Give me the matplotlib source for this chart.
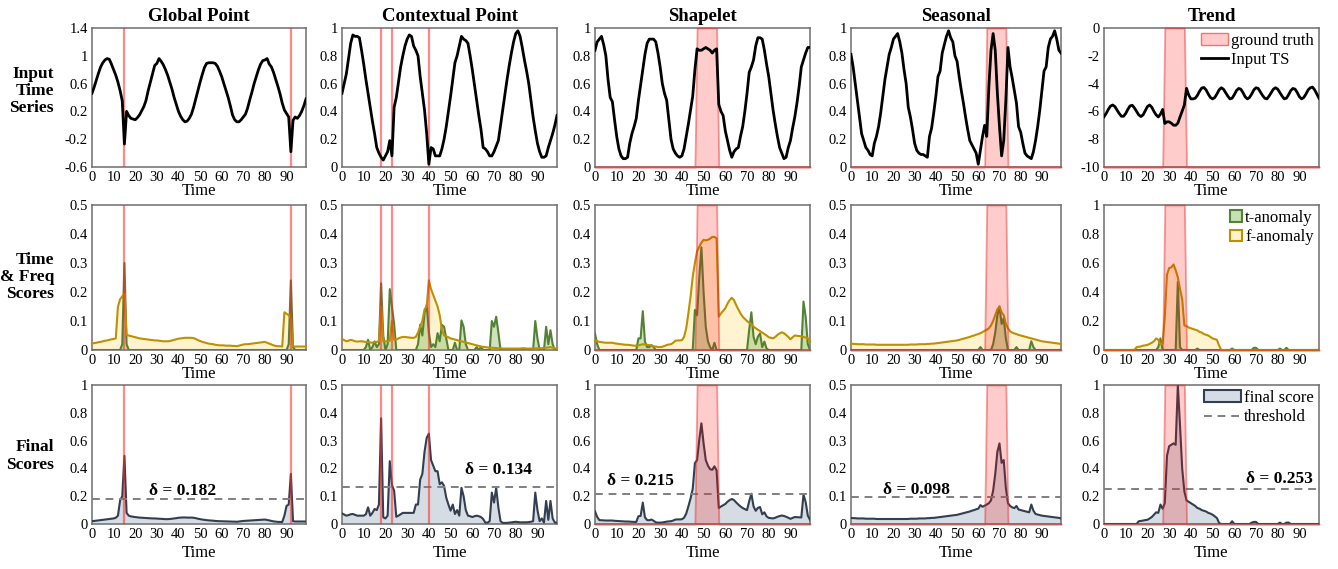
import numpy as np
import matplotlib.pyplot as plt
from matplotlib.patches import Patch
from matplotlib.lines import Line2D
from matplotlib.ticker import FuncFormatter

plt.rcParams['font.family'] = ['Liberation Serif', 'DejaVu Serif']
plt.rcParams['axes.unicode_minus'] = False

t = np.arange(100)
cols = ['Global Point', 'Contextual Point', 'Shapelet', 'Seasonal', 'Trend']
rows = ['Input\nTime\nSeries', 'Time\n& Freq\nScores', 'Final\nScores']

# ground truth: list -> single points, tuple -> (start, end) range
gt = [[15, 92], [18, 23, 40], (47, 56), (64, 73), (28, 37)]
thresholds = [0.182, 0.134, 0.215, 0.098, 0.253]

# ---- Global Point ----
ts_global = [0.46, 0.55, 0.65, 0.75, 0.84, 0.90, 0.94, 0.96, 0.95, 0.88, 0.80, 0.72, 0.62, 0.50, 0.35, -0.27, 0.20, 0.14, 0.10, 0.09,
             0.08, 0.11, 0.15, 0.21, 0.27, 0.36, 0.50, 0.62, 0.74, 0.86, 0.89, 0.96, 0.92, 0.87, 0.80, 0.72, 0.62, 0.52, 0.40, 0.30,
             0.20, 0.13, 0.08, 0.05, 0.06, 0.10, 0.16, 0.26, 0.38, 0.50, 0.62, 0.73, 0.83, 0.89, 0.90, 0.90, 0.90, 0.89, 0.85, 0.78,
             0.70, 0.60, 0.50, 0.40, 0.28, 0.15, 0.08, 0.05, 0.05, 0.08, 0.12, 0.16, 0.25, 0.37, 0.48, 0.60, 0.70, 0.80, 0.88, 0.93,
             0.94, 0.96, 0.88, 0.84, 0.76, 0.66, 0.56, 0.45, 0.32, 0.22, 0.17, 0.12, -0.38, 0.07, 0.12, 0.10, 0.14, 0.20, 0.28, 0.38]
t_global = [0, 0, 0, 0, 0, 0, 0, 0, 0, 0, 0, 0, 0, 0, 0.02, 0.30, 0.02, 0, 0, 0,
            0, 0, 0, 0, 0, 0, 0, 0, 0, 0, 0, 0, 0, 0, 0, 0, 0, 0, 0, 0,
            0, 0, 0, 0, 0, 0, 0, 0, 0, 0, 0, 0, 0, 0, 0, 0, 0, 0, 0, 0,
            0, 0, 0, 0, 0, 0, 0, 0, 0, 0, 0, 0, 0, 0, 0, 0, 0, 0, 0, 0,
            0, 0, 0, 0, 0, 0, 0, 0, 0, 0, 0, 0.02, 0.24, 0.01, 0, 0, 0, 0, 0, 0]
f_global = [0.022, 0.024, 0.025, 0.027, 0.028, 0.030, 0.032, 0.033, 0.035, 0.037, 0.038, 0.040, 0.15, 0.175, 0.185, 0.195, 0.052, 0.050, 0.048, 0.046,
            0.044, 0.042, 0.040, 0.039, 0.038, 0.037, 0.036, 0.035, 0.034, 0.033, 0.033, 0.032, 0.031, 0.030, 0.030, 0.030, 0.031, 0.033, 0.035, 0.037,
            0.039, 0.040, 0.041, 0.042, 0.042, 0.042, 0.042, 0.041, 0.038, 0.034, 0.031, 0.028, 0.026, 0.024, 0.022, 0.021, 0.020, 0.018, 0.017, 0.016,
            0.016, 0.016, 0.015, 0.015, 0.015, 0.014, 0.014, 0.013, 0.015, 0.017, 0.019, 0.020, 0.020, 0.021, 0.022, 0.023, 0.024, 0.025, 0.026, 0.027,
            0.028, 0.025, 0.022, 0.019, 0.016, 0.014, 0.013, 0.013, 0.012, 0.13, 0.125, 0.12, 0.11, 0.012, 0.012, 0.012, 0.012, 0.012, 0.012, 0.012]
fin_global = [0.020, 0.022, 0.024, 0.026, 0.028, 0.030, 0.032, 0.034, 0.036, 0.038, 0.040, 0.045, 0.06, 0.17, 0.20, 0.49, 0.08, 0.060, 0.055, 0.052,
              0.050, 0.048, 0.046, 0.045, 0.044, 0.043, 0.042, 0.041, 0.040, 0.040, 0.039, 0.038, 0.037, 0.036, 0.035, 0.035, 0.036, 0.038, 0.040, 0.042,
              0.045, 0.046, 0.047, 0.047, 0.046, 0.046, 0.046, 0.045, 0.042, 0.038, 0.035, 0.032, 0.030, 0.028, 0.026, 0.025, 0.024, 0.022, 0.021, 0.020,
              0.020, 0.019, 0.019, 0.018, 0.018, 0.017, 0.017, 0.016, 0.018, 0.020, 0.022, 0.023, 0.024, 0.025, 0.026, 0.027, 0.028, 0.029, 0.030, 0.031,
              0.032, 0.029, 0.026, 0.022, 0.019, 0.017, 0.015, 0.015, 0.014, 0.06, 0.13, 0.14, 0.36, 0.02, 0.018, 0.018, 0.018, 0.018, 0.018, 0.018]

# ---- Contextual Point ----
ts_context = [0.53, 0.60, 0.67, 0.78, 0.89, 0.95, 0.94, 0.94, 0.93, 0.84, 0.74, 0.63, 0.53, 0.43, 0.33, 0.24, 0.14, 0.10, 0.07, 0.05,
              0.08, 0.11, 0.19, 0.08, 0.43, 0.50, 0.61, 0.72, 0.80, 0.87, 0.92, 0.95, 0.94, 0.87, 0.84, 0.80, 0.65, 0.53, 0.41, 0.24,
              0.02, 0.14, 0.13, 0.08, 0.08, 0.08, 0.13, 0.20, 0.29, 0.40, 0.51, 0.63, 0.75, 0.80, 0.87, 0.94, 0.92, 0.91, 0.89, 0.80,
              0.70, 0.59, 0.48, 0.37, 0.27, 0.14, 0.13, 0.11, 0.08, 0.08, 0.11, 0.15, 0.19, 0.30, 0.41, 0.52, 0.63, 0.73, 0.82, 0.90,
              0.96, 0.98, 0.94, 0.86, 0.77, 0.69, 0.60, 0.48, 0.36, 0.26, 0.17, 0.11, 0.07, 0.07, 0.08, 0.14, 0.19, 0.24, 0.30, 0.37]
t_context = [0, 0, 0, 0, 0, 0, 0, 0, 0, 0, 0, 0.01, 0.035, 0, 0.01, 0.03, 0.01, 0.02, 0.23, 0.05,
             0, 0.02, 0.21, 0.15, 0.09, 0, 0, 0, 0, 0, 0, 0, 0, 0, 0, 0.02, 0.087, 0.05, 0.127, 0.156,
             0.06, 0.01, 0.02, 0.01, 0.058, 0.03, 0.087, 0.08, 0.04, 0, 0, 0, 0.025, 0, 0, 0.102, 0.08, 0.02, 0, 0,
             0, 0, 0.01, 0, 0.01, 0, 0, 0, 0, 0.10, 0.08, 0.115, 0.06, 0, 0, 0, 0, 0, 0, 0,
             0, 0, 0, 0, 0, 0, 0, 0, 0, 0.10, 0.04, 0, 0, 0, 0.08, 0.02, 0.068, 0.02, 0, 0]
f_context = [0.038, 0.034, 0.030, 0.032, 0.035, 0.033, 0.030, 0.029, 0.030, 0.030, 0.029, 0.028, 0.027, 0.026, 0.025, 0.027, 0.028, 0.030, 0.15, 0.03,
             0.030, 0.030, 0.032, 0.10, 0.035, 0.036, 0.040, 0.043, 0.045, 0.045, 0.044, 0.043, 0.042, 0.042, 0.045, 0.060, 0.080, 0.10, 0.14, 0.15,
             0.24, 0.21, 0.19, 0.17, 0.15, 0.12, 0.07, 0.050, 0.047, 0.044, 0.040, 0.038, 0.036, 0.034, 0.032, 0.030, 0.028, 0.026, 0.024, 0.022,
             0.020, 0.018, 0.016, 0.014, 0.012, 0.011, 0.010, 0.009, 0.008, 0.008, 0.007, 0.007, 0.006, 0.006, 0.005, 0.005, 0.005, 0.005, 0.005, 0.005,
             0.005, 0.005, 0.005, 0.006, 0.006, 0.005, 0.005, 0.005, 0.005, 0.006, 0.006, 0.006, 0.006, 0.007, 0.008, 0.009, 0.010, 0.008, 0.006, 0.005]
fin_context = [0.038, 0.034, 0.030, 0.032, 0.035, 0.036, 0.033, 0.030, 0.030, 0.030, 0.030, 0.035, 0.060, 0.030, 0.040, 0.054, 0.050, 0.070, 0.38, 0.024,
               0.020, 0.030, 0.226, 0.14, 0.12, 0.026, 0.030, 0.035, 0.040, 0.040, 0.040, 0.040, 0.040, 0.040, 0.070, 0.070, 0.16, 0.18, 0.26, 0.31,
               0.325, 0.23, 0.21, 0.19, 0.19, 0.143, 0.15, 0.137, 0.095, 0.07, 0.048, 0.07, 0.036, 0.05, 0.03, 0.13, 0.10, 0.05, 0.03, 0.028,
               0.025, 0.028, 0.03, 0.028, 0.025, 0.018, 0.005, 0.005, 0.01, 0.113, 0.077, 0.13, 0.06, 0.01, 0.004, 0.004, 0.004, 0.005, 0.006, 0.007,
               0.008, 0.007, 0.006, 0.006, 0.006, 0.006, 0.007, 0.008, 0.01, 0.113, 0.05, 0.01, 0.02, 0.005, 0.083, 0.015, 0.083, 0.02, 0.005, 0.005]

# ---- Shapelet ----
ts_shape = [0.84, 0.90, 0.92, 0.94, 0.88, 0.80, 0.63, 0.50, 0.47, 0.34, 0.22, 0.13, 0.08, 0.06, 0.06, 0.07, 0.17, 0.24, 0.29, 0.35,
            0.48, 0.59, 0.70, 0.81, 0.89, 0.92, 0.92, 0.92, 0.90, 0.82, 0.72, 0.60, 0.53, 0.48, 0.34, 0.20, 0.13, 0.10, 0.08, 0.07,
            0.08, 0.13, 0.22, 0.31, 0.41, 0.51, 0.70, 0.85, 0.84, 0.84, 0.85, 0.86, 0.85, 0.84, 0.82, 0.84, 0.85, 0.45, 0.40, 0.37,
            0.26, 0.19, 0.12, 0.07, 0.11, 0.13, 0.14, 0.22, 0.29, 0.40, 0.53, 0.68, 0.72, 0.77, 0.87, 0.93, 0.93, 0.92, 0.84, 0.74,
            0.65, 0.53, 0.41, 0.31, 0.22, 0.14, 0.10, 0.06, 0.07, 0.14, 0.19, 0.28, 0.36, 0.46, 0.58, 0.72, 0.77, 0.82, 0.86, 0.86]
t_shape = [0.057, 0.02, 0, 0, 0, 0, 0, 0, 0, 0, 0, 0, 0, 0, 0, 0, 0, 0, 0, 0,
           0.04, 0.04, 0.134, 0.029, 0.01, 0.01, 0.017, 0.01, 0, 0, 0, 0, 0, 0, 0, 0, 0, 0, 0, 0,
           0, 0, 0, 0, 0, 0, 0.138, 0.12, 0.25, 0.354, 0.2, 0.08, 0.03, 0.01, 0, 0.025, 0, 0, 0, 0,
           0, 0, 0, 0, 0, 0, 0, 0, 0, 0, 0, 0.07, 0.13, 0.046, 0.02, 0.046, 0.057, 0.01, 0.029, 0.005,
           0, 0, 0, 0, 0, 0, 0, 0, 0, 0, 0, 0, 0, 0, 0, 0, 0.167, 0.115, 0.02, 0]
f_shape = [0.034, 0.031, 0.028, 0.027, 0.026, 0.025, 0.025, 0.025, 0.025, 0.023, 0.022, 0.021, 0.020, 0.019, 0.018, 0.018, 0.017, 0.016, 0.015, 0.015,
           0.016, 0.018, 0.020, 0.019, 0.018, 0.017, 0.015, 0.013, 0.012, 0.010, 0.010, 0.011, 0.014, 0.017, 0.019, 0.020, 0.025, 0.032, 0.033, 0.033,
           0.034, 0.045, 0.075, 0.127, 0.184, 0.253, 0.300, 0.340, 0.356, 0.370, 0.380, 0.378, 0.380, 0.384, 0.390, 0.390, 0.385, 0.115, 0.126, 0.135,
           0.144, 0.160, 0.172, 0.180, 0.172, 0.155, 0.140, 0.126, 0.115, 0.107, 0.100, 0.094, 0.088, 0.081, 0.075, 0.070, 0.065, 0.060, 0.055, 0.050,
           0.044, 0.042, 0.040, 0.045, 0.052, 0.057, 0.061, 0.058, 0.052, 0.045, 0.037, 0.044, 0.050, 0.049, 0.048, 0.047, 0.045, 0.043, 0.040, 0.030]
fin_shape = [0.091, 0.051, 0.028, 0.027, 0.026, 0.025, 0.025, 0.025, 0.025, 0.023, 0.022, 0.021, 0.020, 0.019, 0.018, 0.018, 0.017, 0.016, 0.015, 0.015,
             0.056, 0.058, 0.154, 0.048, 0.028, 0.027, 0.032, 0.023, 0.012, 0.010, 0.010, 0.011, 0.014, 0.017, 0.019, 0.020, 0.025, 0.032, 0.033, 0.033,
             0.034, 0.045, 0.075, 0.127, 0.184, 0.253, 0.438, 0.46, 0.606, 0.724, 0.58, 0.46, 0.42, 0.394, 0.39, 0.415, 0.385, 0.115, 0.126, 0.135,
             0.144, 0.160, 0.172, 0.180, 0.172, 0.155, 0.140, 0.126, 0.115, 0.107, 0.100, 0.164, 0.218, 0.127, 0.095, 0.116, 0.122, 0.07, 0.084, 0.055,
             0.044, 0.042, 0.040, 0.045, 0.052, 0.057, 0.061, 0.058, 0.052, 0.045, 0.037, 0.044, 0.050, 0.049, 0.048, 0.047, 0.212, 0.158, 0.06, 0.03]

# ---- Seasonal ----
ts_season = [0.81, 0.72, 0.60, 0.48, 0.36, 0.24, 0.19, 0.14, 0.12, 0.09, 0.08, 0.17, 0.22, 0.29, 0.39, 0.51, 0.63, 0.72, 0.81, 0.86,
             0.92, 0.94, 0.96, 0.90, 0.82, 0.70, 0.60, 0.43, 0.36, 0.27, 0.17, 0.12, 0.10, 0.09, 0.09, 0.08, 0.07, 0.22, 0.28, 0.39,
             0.51, 0.65, 0.69, 0.82, 0.88, 0.94, 0.98, 0.93, 0.90, 0.80, 0.76, 0.65, 0.55, 0.46, 0.36, 0.27, 0.19, 0.16, 0.13, 0.10,
             0.02, 0.12, 0.22, 0.30, 0.22, 0.58, 0.84, 0.96, 0.84, 0.53, 0.29, 0.08, 0.19, 0.48, 0.86, 0.72, 0.64, 0.55, 0.46, 0.29,
             0.25, 0.17, 0.10, 0.08, 0.07, 0.06, 0.11, 0.19, 0.29, 0.41, 0.55, 0.69, 0.72, 0.86, 0.92, 0.94, 0.98, 0.92, 0.84, 0.82]
t_season = [0, 0, 0, 0, 0, 0, 0, 0, 0, 0, 0, 0, 0, 0, 0, 0, 0, 0, 0, 0,
            0, 0, 0, 0, 0, 0, 0, 0, 0, 0, 0, 0, 0, 0, 0, 0, 0, 0, 0, 0,
            0, 0, 0, 0, 0, 0, 0, 0, 0, 0, 0, 0, 0, 0, 0, 0, 0, 0, 0, 0,
            0, 0.01, 0, 0, 0, 0, 0, 0.02, 0.06, 0.12, 0.15, 0.09, 0.11, 0.04, 0, 0, 0, 0, 0.01, 0,
            0, 0, 0, 0, 0, 0.03, 0.01, 0, 0, 0, 0, 0, 0, 0, 0, 0, 0, 0, 0, 0]
f_season = [0.022, 0.021, 0.021, 0.020, 0.020, 0.020, 0.020, 0.019, 0.019, 0.019, 0.019, 0.019, 0.018, 0.018, 0.018, 0.018, 0.018, 0.018, 0.018, 0.018,
            0.018, 0.018, 0.018, 0.018, 0.018, 0.018, 0.018, 0.018, 0.019, 0.019, 0.019, 0.019, 0.020, 0.020, 0.020, 0.020, 0.021, 0.021, 0.022, 0.022,
            0.023, 0.024, 0.025, 0.026, 0.027, 0.028, 0.029, 0.030, 0.031, 0.032, 0.033, 0.035, 0.037, 0.039, 0.041, 0.043, 0.045, 0.048, 0.050, 0.053,
            0.055, 0.058, 0.062, 0.066, 0.070, 0.075, 0.085, 0.10, 0.12, 0.14, 0.15, 0.13, 0.12, 0.09, 0.075, 0.065, 0.060, 0.057, 0.055, 0.052,
            0.050, 0.048, 0.046, 0.044, 0.042, 0.040, 0.038, 0.036, 0.034, 0.032, 0.030, 0.029, 0.028, 0.027, 0.026, 0.025, 0.024, 0.023, 0.022, 0.020]
fin_season = [0.022, 0.021, 0.021, 0.020, 0.020, 0.020, 0.020, 0.019, 0.019, 0.019, 0.019, 0.019, 0.018, 0.018, 0.018, 0.018, 0.018, 0.018, 0.018, 0.018,
              0.018, 0.018, 0.018, 0.018, 0.018, 0.018, 0.018, 0.018, 0.019, 0.019, 0.019, 0.019, 0.020, 0.020, 0.020, 0.020, 0.021, 0.021, 0.022, 0.022,
              0.023, 0.024, 0.025, 0.026, 0.027, 0.028, 0.029, 0.030, 0.031, 0.032, 0.033, 0.035, 0.037, 0.039, 0.041, 0.043, 0.045, 0.048, 0.050, 0.053,
              0.055, 0.068, 0.062, 0.066, 0.070, 0.075, 0.085, 0.12, 0.18, 0.26, 0.29, 0.22, 0.23, 0.13, 0.075, 0.065, 0.060, 0.057, 0.065, 0.052,
              0.050, 0.048, 0.046, 0.044, 0.042, 0.070, 0.048, 0.036, 0.034, 0.032, 0.030, 0.029, 0.028, 0.027, 0.026, 0.025, 0.024, 0.023, 0.022, 0.020]

# ---- Trend ----
ts_trend = [-6.39, -6.15, -5.85, -5.62, -5.54, -5.65, -5.90, -6.15, -6.35, -6.35, -6.15, -5.85, -5.60, -5.56, -5.75, -6.00, -6.25, -6.37, -6.25, -5.95,
            -5.65, -5.54, -5.70, -6.00, -6.25, -6.40, -6.20, -5.86, -6.87, -6.75, -6.75, -6.85, -6.99, -7.00, -6.85, -6.40, -5.98, -5.54, -4.34, -4.82,
            -5.10, -5.10, -5.05, -4.85, -4.55, -4.32, -4.28, -4.45, -4.75, -5.00, -5.10, -5.00, -4.75, -4.45, -4.30, -4.40, -4.65, -4.90, -5.10, -5.05,
            -4.80, -4.50, -4.35, -4.40, -4.65, -4.95, -5.10, -5.00, -4.75, -4.45, -4.30, -4.35, -4.60, -4.85, -5.05, -5.10, -4.90, -4.65, -4.40, -4.30,
            -4.40, -4.65, -4.90, -5.10, -5.05, -4.80, -4.50, -4.35, -4.40, -4.65, -4.95, -5.10, -5.00, -4.75, -4.45, -4.30, -4.25, -4.45, -4.75, -5.05]
t_trend = [0, 0, 0, 0, 0, 0, 0, 0, 0, 0, 0, 0, 0, 0, 0, 0, 0, 0, 0, 0,
           0, 0, 0, 0, 0, 0.02, 0.08, 0, 0, 0, 0, 0, 0, 0, 0.47, 0.02, 0, 0, 0, 0,
           0, 0, 0, 0.01, 0, 0, 0, 0, 0, 0, 0, 0, 0, 0, 0, 0, 0, 0, 0, 0.01,
           0, 0, 0, 0, 0, 0, 0, 0, 0, 0.015, 0.015, 0, 0, 0, 0, 0, 0, 0, 0, 0,
           0, 0.01, 0, 0, 0.015, 0, 0, 0, 0, 0, 0, 0, 0, 0, 0, 0, 0, 0, 0, 0]
f_trend = [0, 0, 0, 0, 0, 0, 0, 0, 0, 0, 0, 0, 0, 0, 0, 0.02, 0.022, 0.025, 0.03, 0.032,
           0.035, 0.042, 0.05, 0.06, 0.08, 0.07, 0.04, 0.047, 0.23, 0.52, 0.565, 0.57, 0.59, 0.55, 0.50, 0.42, 0.35, 0.17, 0.165, 0.155,
           0.15, 0.145, 0.14, 0.135, 0.125, 0.12, 0.11, 0.105, 0.10, 0.09, 0.08, 0.075, 0.07, 0.03, 0, 0, 0, 0, 0, 0,
           0, 0, 0, 0, 0, 0, 0, 0, 0, 0, 0, 0, 0, 0, 0, 0, 0, 0, 0, 0,
           0, 0, 0, 0, 0, 0, 0, 0, 0, 0, 0, 0, 0, 0, 0, 0, 0, 0, 0, 0]
fin_trend = [0, 0, 0, 0, 0, 0, 0, 0, 0, 0, 0, 0, 0, 0, 0, 0, 0.02, 0.022, 0.025, 0.028,
             0.03, 0.04, 0.05, 0.067, 0.084, 0.08, 0.14, 0.11, 0.15, 0.49, 0.56, 0.57, 0.58, 0.57, 1.0, 0.71, 0.40, 0.235, 0.17, 0.16,
             0.15, 0.14, 0.13, 0.115, 0.11, 0.10, 0.095, 0.09, 0.08, 0.075, 0.067, 0.055, 0.043, 0.007, 0, 0, 0, 0, 0, 0.02,
             0, 0, 0, 0, 0, 0, 0, 0, 0.01, 0.015, 0.015, 0, 0, 0, 0, 0, 0, 0, 0, 0,
             0, 0.01, 0, 0, 0.01, 0.01, 0, 0, 0, 0, 0, 0, 0, 0, 0, 0, 0, 0, 0, 0]

ts_all = [ts_global, ts_context, ts_shape, ts_season, ts_trend]
t_all = [t_global, t_context, t_shape, t_season, t_trend]
f_all = [f_global, f_context, f_shape, f_season, f_trend]
fin_all = [fin_global, fin_context, fin_shape, fin_season, fin_trend]

ylim_ts = [(-0.6, 1.4, 0.4), (0, 1, 0.2), (0, 1, 0.2), (0, 1, 0.2), (-10, 0, 2)]
ylim_tf = [(0, 0.5, 0.1), (0, 0.5, 0.1), (0, 0.5, 0.1), (0, 0.5, 0.1), (0, 1, 0.2)]
ylim_fin = [(0, 1, 0.2), (0, 0.5, 0.1), (0, 1, 0.2), (0, 0.5, 0.1), (0, 1, 0.2)]
delta_pos = [(42, 0.237), (72, 0.194), (21, 0.31), (31, 0.122), (81, 0.324)]

# layout in pixels
W, H = 1338, 569
col_l = [92, 342, 595, 851, 1104]
col_w = [214, 215, 215, 210, 215]
row_top = [28, 205, 385]
row_bot = [167, 350, 524]
row_label_y = [91, 277, 456]

GT_FACE = (1, 0, 0, 0.2)
GT_EDGE = (0.92, 0.15, 0.15, 0.45)
GREEN, GREEN_F = '#548235', (0.44, 0.68, 0.28, 0.35)
GOLD, GOLD_F = '#bf9000', (1.0, 0.85, 0.4, 0.3)
NAVY, NAVY_F = '#333f50', (0.68, 0.73, 0.79, 0.5)

fig = plt.figure(figsize=(W / 100, H / 100), dpi=100)
fmt = FuncFormatter(lambda v, _: f'{round(v, 6):g}')


def draw_gt(ax, g, lo, hi):
    if isinstance(g, tuple):
        mask = ((t >= g[0]) & (t <= g[1])).astype(float)
        ax.fill_between(t, lo, lo + mask * (hi - lo), facecolor=GT_FACE,
                        edgecolor=GT_EDGE, lw=1.3, zorder=5, clip_on=False)
    else:
        for p in g:
            ax.axvline(p, color=(1, 0.15, 0.15, 0.55), lw=1.6, zorder=5)


def style(ax, lim, pad=-1):
    lo, hi, step = lim
    ax.set_xlim(0, 99)
    ax.set_ylim(lo, hi)
    ax.set_xticks(np.arange(0, 100, 10))
    ax.set_yticks(np.arange(lo, hi + step / 2, step))
    ax.yaxis.set_major_formatter(fmt)
    ax.tick_params(length=0, labelsize=10.5, pad=3)
    for s in ax.spines.values():
        s.set_color('#6e6e6e')
        s.set_linewidth(1.1)
    ax.set_xlabel('Time', fontsize=12, labelpad=pad)


axes = [[None] * 5 for _ in range(3)]
for r in range(3):
    for c in range(5):
        rect = [col_l[c] / W, 1 - row_bot[r] / H, col_w[c] / W, (row_bot[r] - row_top[r]) / H]
        axes[r][c] = fig.add_axes(rect)

for c in range(5):
    # input series
    ax = axes[0][c]
    lo, hi, _ = ylim_ts[c]
    draw_gt(ax, gt[c], lo, hi)
    ax.plot(t, ts_all[c], color='black', lw=2, zorder=6)
    style(ax, ylim_ts[c])
    ax.set_title(cols[c], fontsize=13.5, fontweight='bold', pad=5)

    # time & frequency scores
    ax = axes[1][c]
    lo, hi, _ = ylim_tf[c]
    ax.fill_between(t, 0, f_all[c], facecolor=GOLD_F, lw=0, zorder=2)
    ax.fill_between(t, 0, t_all[c], facecolor=GREEN_F, lw=0, zorder=3)
    ax.plot(t, t_all[c], color=GREEN, lw=1.5, zorder=4)
    ax.plot(t, f_all[c], color=GOLD, lw=1.5, zorder=4, clip_on=False)
    draw_gt(ax, gt[c], lo, hi)
    style(ax, ylim_tf[c])

    # final scores
    ax = axes[2][c]
    lo, hi, _ = ylim_fin[c]
    ax.fill_between(t, 0, fin_all[c], facecolor=NAVY_F, lw=0, zorder=2)
    ax.plot(t, fin_all[c], color=NAVY, lw=1.5, zorder=3)
    ax.axhline(thresholds[c], color='#7f7f7f', ls=(0, (4, 3)), lw=1.4, zorder=4)
    draw_gt(ax, gt[c], lo, hi)
    style(ax, ylim_fin[c], pad=3)
    dx, dy = delta_pos[c]
    ax.text(dx, dy, f'\u03b4 = {thresholds[c]:.3f}', fontsize=12.5, fontweight='bold',
            ha='center', va='center', zorder=7)

for r in range(3):
    fig.text(54 / W, 1 - row_label_y[r] / H, rows[r], ha='right', va='center', fontsize=12.5,
             fontweight='bold', multialignment='right', linespacing=1.1)

leg_kw = dict(loc='upper right', frameon=False, fontsize=12, borderaxespad=0.1,
              borderpad=0.2, handletextpad=0.2, labelspacing=0.2)
axes[0][4].legend([Patch(facecolor=GT_FACE, edgecolor=(0.95, 0.45, 0.45), lw=1),
                   Line2D([], [], color='black', lw=2)],
                  ['ground truth', 'Input TS'], handlelength=1.6, **leg_kw)
axes[1][4].legend([Patch(facecolor='#c5e0b4', edgecolor=GREEN, lw=1.5),
                   Patch(facecolor='#fff2cc', edgecolor=GOLD, lw=1.5)],
                  ['t-anomaly', 'f-anomaly'], handlelength=0.7, handleheight=0.7, **leg_kw)
axes[2][4].legend([Patch(facecolor='#d6dce5', edgecolor=NAVY, lw=1.5),
                   Line2D([], [], color='#7f7f7f', ls=(0, (4, 3)), lw=1.4)],
                  ['final score', 'threshold'], handlelength=2.2, **leg_kw)

fig.savefig('out.png', dpi=100)
